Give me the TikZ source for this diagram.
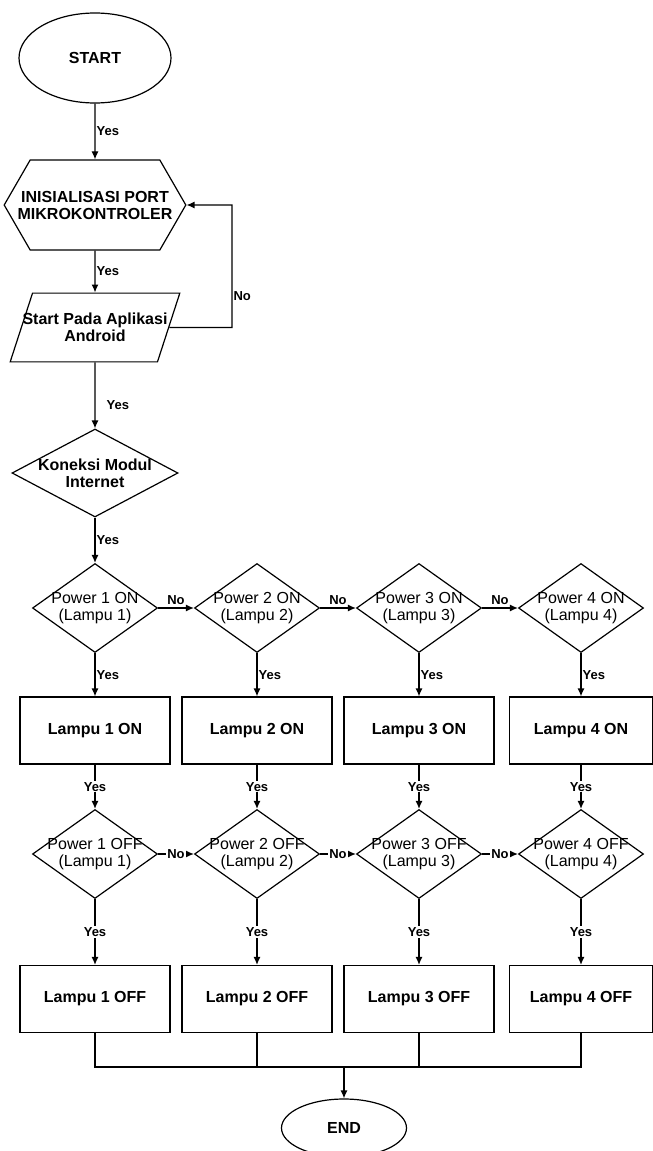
\documentclass[tikz,border=0pt]{standalone}
\usepackage{fontspec}
\setmainfont{Liberation Sans}
\usetikzlibrary{shapes.geometric,shapes.symbols,arrows.meta}

\begin{document}
\begin{tikzpicture}[x=1pt,y=-1pt,line width=1.2pt,font=\fontsize{16}{17}\selectfont\bfseries]
  \useasboundingbox (0,0) rectangle (653,1151);
  \tikzstyle{Terminal}=[draw,ellipse,inner sep=0pt]
  \tikzstyle{Prep}=[draw,signal,signal to=west and east,signal pointer angle=120,minimum height=90,inner xsep=-12.5pt,inner ysep=0pt,align=center]
  \tikzstyle{Data}=[draw,trapezium,trapezium left angle=72,trapezium right angle=108,inner xsep=-10pt,inner ysep=20pt,align=center]
  \tikzstyle{Decision}=[draw,diamond,aspect=1.4,minimum width=125,minimum height=89,inner xsep=-6pt,inner ysep=-3pt,align=center,font=\fontsize{16}{17}\selectfont]
  \tikzstyle{Process}=[draw,rectangle,minimum width=150,minimum height=67]
  \tikzstyle{Lbl}=[font=\fontsize{13}{14}\selectfont\bfseries,inner sep=1pt]
  \tikzstyle{Arrow}=[->,>={Latex[length=8pt,width=7pt]}]
  \node[Terminal,minimum width=152,minimum height=90] (start) at (95,58) {START};
  \node[Prep] (init) at (95,205) {INISIALISASI PORT\\MIKROKONTROLER};
  \node[Data] (app) at (95,327.5) {Start Pada Aplikasi\\Android};
  \node[Decision,aspect=1.89,minimum width=166,minimum height=88,font=\fontsize{16}{17}\selectfont\bfseries] (net) at (95,473) {Koneksi Modul\\Internet};
  \node[Decision] (p1on) at (95,608) {Power 1 ON\\(Lampu 1)};
  \node[Decision] (p2on) at (257,608) {Power 2 ON\\(Lampu 2)};
  \node[Decision] (p3on) at (419,608) {Power 3 ON\\(Lampu 3)};
  \node[Decision] (p4on) at (581,608) {Power 4 ON\\(Lampu 4)};
  \node[Process] (l1on) at (95,730.5) {Lampu 1 ON};
  \node[Process] (l2on) at (257,730.5) {Lampu 2 ON};
  \node[Process] (l3on) at (419,730.5) {Lampu 3 ON};
  \node[Process,minimum width=143] (l4on) at (581,730.5) {Lampu 4 ON};
  \node[Decision] (p1off) at (95,854) {Power 1 OFF\\(Lampu 1)};
  \node[Decision] (p2off) at (257,854) {Power 2 OFF\\(Lampu 2)};
  \node[Decision] (p3off) at (419,854) {Power 3 OFF\\(Lampu 3)};
  \node[Decision] (p4off) at (581,854) {Power 4 OFF\\(Lampu 4)};
  \node[Process] (l1off) at (95,999) {Lampu 1 OFF};
  \node[Process] (l2off) at (257,999) {Lampu 2 OFF};
  \node[Process] (l3off) at (419,999) {Lampu 3 OFF};
  \node[Process,minimum width=143] (l4off) at (581,999) {Lampu 4 OFF};
  \node[Terminal,minimum width=125,minimum height=58] (finish) at (344,1128) {END};
  \coordinate (join) at (344,1067);
  \draw[Arrow] (start) -- node[Lbl,right] {Yes} (init);
  \draw[Arrow] (init) -- node[Lbl,right] {Yes} (app);
  \draw[Arrow] (app.east) -- (232,327.5) |- node[Lbl,right,pos=0.13] {No} (init.east);
  \draw[Arrow] (app) -- node[Lbl,right,pos=0.65,xshift=10] {Yes} (net);
  \draw[Arrow] (net) -- node[Lbl,right] {Yes} (p1on);
  \draw[Arrow] (p1on) -- node[Lbl,above=2pt] {No} (p2on);
  \draw[Arrow] (p2on) -- node[Lbl,above=2pt] {No} (p3on);
  \draw[Arrow] (p3on) -- node[Lbl,above=2pt] {No} (p4on);
  \draw[Arrow] (p1on) -- node[Lbl,right] {Yes} (l1on);
  \draw[Arrow] (p2on) -- node[Lbl,right] {Yes} (l2on);
  \draw[Arrow] (p3on) -- node[Lbl,right] {Yes} (l3on);
  \draw[Arrow] (p4on) -- node[Lbl,right] {Yes} (l4on);
  \draw[Arrow] (l1on) -- node[Lbl,fill=white] {Yes} (p1off);
  \draw[Arrow] (l2on) -- node[Lbl,fill=white] {Yes} (p2off);
  \draw[Arrow] (l3on) -- node[Lbl,fill=white] {Yes} (p3off);
  \draw[Arrow] (l4on) -- node[Lbl,fill=white] {Yes} (p4off);
  \draw[Arrow] (p1off) -- node[Lbl,fill=white] {No} (p2off);
  \draw[Arrow] (p2off) -- node[Lbl,fill=white] {No} (p3off);
  \draw[Arrow] (p3off) -- node[Lbl,fill=white] {No} (p4off);
  \draw[Arrow] (p1off) -- node[Lbl,fill=white] {Yes} (l1off);
  \draw[Arrow] (p2off) -- node[Lbl,fill=white] {Yes} (l2off);
  \draw[Arrow] (p3off) -- node[Lbl,fill=white] {Yes} (l3off);
  \draw[Arrow] (p4off) -- node[Lbl,fill=white] {Yes} (l4off);
  \draw (l1off) |- (join);
  \draw (l2off) |- (join);
  \draw (l3off) |- (join);
  \draw (l4off) |- (join);
  \draw[Arrow] (join) -- (finish);
\end{tikzpicture}
\end{document}
